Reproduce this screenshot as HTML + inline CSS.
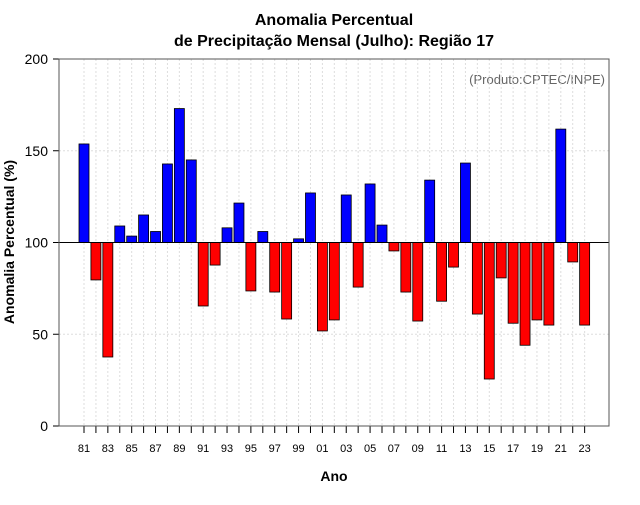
<!DOCTYPE html>
<html><head><meta charset="utf-8"><style>
body{margin:0;background:#fff;font-family:"Liberation Sans",sans-serif}
</style></head><body>
<svg id="chart" width="640" height="500" xmlns="http://www.w3.org/2000/svg" font-family="Liberation Sans, sans-serif">
<text x="334" y="25" text-anchor="middle" font-size="16" font-weight="bold">Anomalia Percentual</text>
<text x="334" y="46" text-anchor="middle" font-size="16" font-weight="bold">de Precipitação Mensal (Julho): Região 17</text>
<text x="605" y="84" text-anchor="end" font-size="13" fill="#666">(Produto:CPTEC/INPE)</text>
<text x="334" y="481" text-anchor="middle" font-size="14" font-weight="bold">Ano</text>
<text transform="translate(14,242) rotate(-90)" text-anchor="middle" font-size="14" font-weight="bold">Anomalia Percentual (%)</text>
<g id="grid"></g><g id="bars"></g><g id="axes"></g>
</svg>
<script>
const years=[81,82,83,84,85,86,87,88,89,90,91,92,93,94,95,96,97,98,99,0,1,2,3,4,5,6,7,8,9,10,11,12,13,14,15,16,17,18,19,20,21,22,23];
const values=[153.7,79.6,37.6,109,103.5,115,106,142.8,173,145,65.4,87.7,108,121.5,73.6,106,73,58.3,102,127,51.8,57.8,125.9,75.7,131.9,109.5,95.4,73,57.2,134,68,86.6,143.3,61,25.6,80.7,56,44,57.8,55,161.8,89.4,55];
const yTicks=[0,50,100,150,200];
const NS="http://www.w3.org/2000/svg";
const L=59,R=609,T=59,B=426;
const x=i=>84+i*11.92;
const y=v=>B-(v/200)*(B-T);
function mk(tag,attrs,parent){const e=document.createElementNS(NS,tag);for(const k in attrs)e.setAttribute(k,attrs[k]);document.getElementById(parent).appendChild(e);return e;}
years.forEach((yr,i)=>{
  const g=mk('line',{x1:x(i),x2:x(i),y1:T,y2:B,stroke:'#ddd','stroke-dasharray':'2,2'},'grid');
  
  
  const t=mk('line',{x1:x(i),x2:x(i),y1:B,y2:B+7,stroke:'#000'},'axes');
  
  
  if(i%2===0){const l=mk('text',{x:x(i),y:B+26,'text-anchor':'middle','font-size':11},'axes');l.textContent=String(yr).padStart(2,'0');
  
  }
});
yTicks.forEach(v=>{
  const g=mk('line',{x1:L,x2:R,y1:y(v),y2:y(v),stroke:'#ddd','stroke-dasharray':'2,2'},'grid');
  
  
  const t=mk('line',{x1:L-6,x2:L,y1:y(v),y2:y(v),stroke:'#000'},'axes');
  
  
  const l=mk('text',{x:L-11,y:y(v)+5,'text-anchor':'end','font-size':14},'axes');l.textContent=v;
  
  
});
values.forEach((v,i)=>{
  const top=Math.min(y(v),y(100)),h=Math.abs(y(v)-y(100));
  const b=mk('rect',{x:x(i)-5,y:top,width:10,height:h,fill:v>=100?'#0000ff':'#ff0000',stroke:'#000','stroke-width':0.8},'bars');
  
  
});
const base=mk('line',{x1:L,x2:R,y1:y(100),y2:y(100),stroke:'#000','stroke-width':1},'axes');


const box=mk('rect',{x:L,y:T,width:R-L,height:B-T,fill:'none',stroke:'#555','stroke-width':1},'axes');


</script>
</body></html>
